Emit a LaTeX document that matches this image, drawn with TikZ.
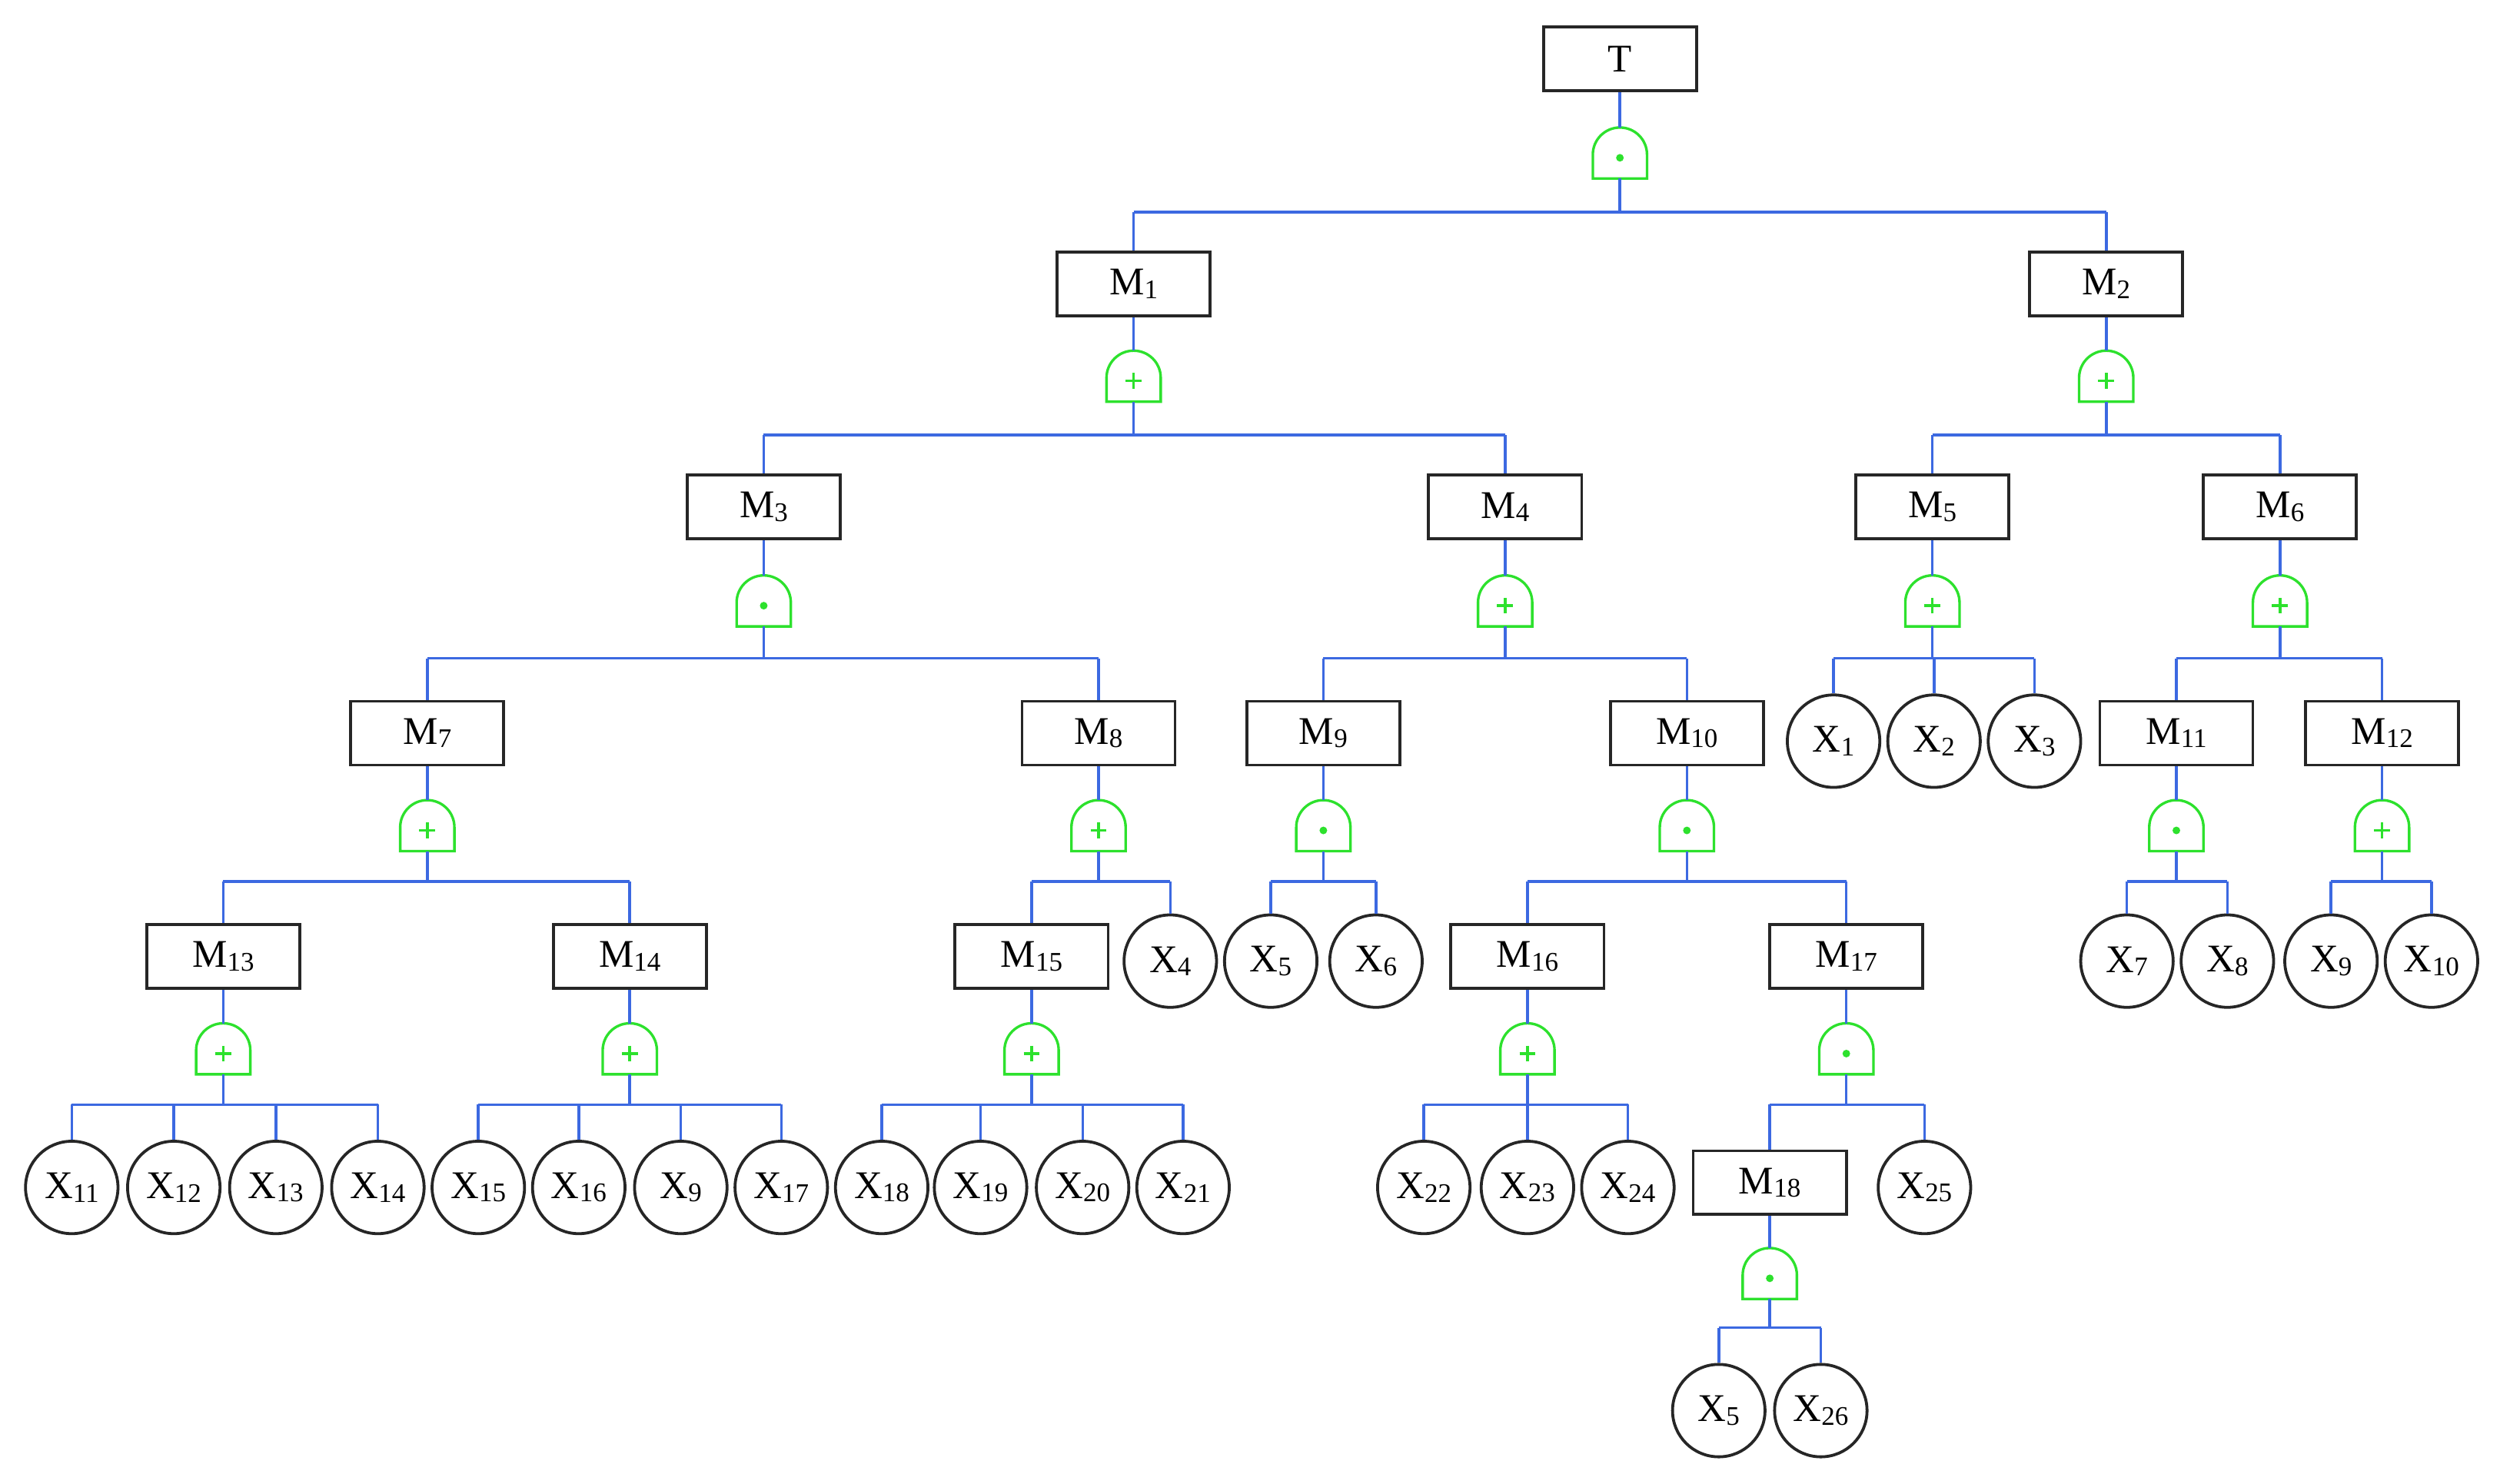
\documentclass[tikz,border=0pt]{standalone}
\usepackage{fontspec}
\setmainfont{Liberation Serif}
\definecolor{wireb}{RGB}{60,105,225}
\definecolor{gateg}{RGB}{45,225,45}
\newcommand\sbs[1]{\raisebox{-3pt}{\fontsize{24}{24}\selectfont #1}}
\tikzset{
 box/.style={draw=black!85,line width=2.6pt,minimum width=4.8cm,minimum height=2cm,inner sep=0pt,font=\fontsize{35}{35}\selectfont},
 ev/.style={draw=black!85,line width=2.6pt,circle,minimum size=2.9cm,inner sep=0pt,font=\fontsize{35}{35}\selectfont},
 wire/.style={draw=wireb,line width=2.4pt},
 gatec/.style={draw=gateg,line width=2.3pt},
}
\newcommand\gt[4]{%
 \coordinate (#1t) at (#2,#3-17); \coordinate (#1b) at (#2,#3+15);
 \draw[gatec] (#2-17,#3+15) -- (#2-17,#3) arc[start angle=180,end angle=360,radius=17] -- (#2+17,#3+15) -- cycle;
 \ifnum#4=1 \fill[gateg] (#2,#3+2) circle (2.4);
 \else \draw[gateg,line width=2.4pt] (#2-5,#3+2) -- (#2+5,#3+2) (#2,#3-3) -- (#2,#3+7);\fi}
\newcommand\famly[4]{% parent, gate, bar y, children
 \draw[wire] (#1.south) -- (#2t);
 \coordinate (#2bar) at (0,#3);
 \draw[wire] (#2b) -- (#2b |- #2bar);
 \foreach \c in {#4}{\draw[wire] (\c.north) -- (\c.north |- #2bar);}
}
\begin{document}
\begin{tikzpicture}[x=0.05cm,y=-0.05cm]
\useasboundingbox (0,0) rectangle (1568,931);
% boxes
\node[box] (T) at (1016,37) {T};
\node[box] (M1) at (711,178) {M\sbs{1}};
\node[box] (M2) at (1321,178) {M\sbs{2}};
\node[box] (M3) at (479,318) {M\sbs{3}};
\node[box] (M4) at (944,318) {M\sbs{4}};
\node[box] (M5) at (1212,318) {M\sbs{5}};
\node[box] (M6) at (1430,318) {M\sbs{6}};
\node[box] (M7) at (268,460) {M\sbs{7}};
\node[box] (M8) at (689,460) {M\sbs{8}};
\node[box] (M9) at (830,460) {M\sbs{9}};
\node[box] (M10) at (1058,460) {M\sbs{10}};
\node[box] (M11) at (1365,460) {M\sbs{11}};
\node[box] (M12) at (1494,460) {M\sbs{12}};
\node[box] (M13) at (140,600) {M\sbs{13}};
\node[box] (M14) at (395,600) {M\sbs{14}};
\node[box] (M15) at (647,600) {M\sbs{15}};
\node[box] (M16) at (958,600) {M\sbs{16}};
\node[box] (M17) at (1158,600) {M\sbs{17}};
\node[box] (M18) at (1110,742) {M\sbs{18}};
% events
\node[ev] (x1) at (1150,465) {X\sbs{1}};
\node[ev] (x2) at (1213,465) {X\sbs{2}};
\node[ev] (x3) at (1276,465) {X\sbs{3}};
\node[ev] (x4) at (734,603) {X\sbs{4}};
\node[ev] (x5) at (797,603) {X\sbs{5}};
\node[ev] (x6) at (863,603) {X\sbs{6}};
\node[ev] (x7) at (1334,603) {X\sbs{7}};
\node[ev] (x8) at (1397,603) {X\sbs{8}};
\node[ev] (x9a) at (1462,603) {X\sbs{9}};
\node[ev] (x10) at (1525,603) {X\sbs{10}};
\node[ev] (x11) at (45,745) {X\sbs{11}};
\node[ev] (x12) at (109,745) {X\sbs{12}};
\node[ev] (x13) at (173,745) {X\sbs{13}};
\node[ev] (x14) at (237,745) {X\sbs{14}};
\node[ev] (x15) at (300,745) {X\sbs{15}};
\node[ev] (x16) at (363,745) {X\sbs{16}};
\node[ev] (x9b) at (427,745) {X\sbs{9}};
\node[ev] (x17) at (490,745) {X\sbs{17}};
\node[ev] (x18) at (553,745) {X\sbs{18}};
\node[ev] (x19) at (615,745) {X\sbs{19}};
\node[ev] (x20) at (679,745) {X\sbs{20}};
\node[ev] (x21) at (742,745) {X\sbs{21}};
\node[ev] (x22) at (893,745) {X\sbs{22}};
\node[ev] (x23) at (958,745) {X\sbs{23}};
\node[ev] (x24) at (1021,745) {X\sbs{24}};
\node[ev] (x25) at (1207,745) {X\sbs{25}};
\node[ev] (x5b) at (1078,885) {X\sbs{5}};
\node[ev] (x26) at (1142,885) {X\sbs{26}};
% gates
\gt{gT}{1016}{97}{1}
\gt{g1}{711}{237}{2}
\gt{g2}{1321}{237}{2}
\gt{g3}{479}{378}{1}
\gt{g4}{944}{378}{2}
\gt{g5}{1212}{378}{2}
\gt{g6}{1430}{378}{2}
\gt{g7}{268}{519}{2}
\gt{g8}{689}{519}{2}
\gt{g9}{830}{519}{1}
\gt{g10}{1058}{519}{1}
\gt{g11}{1365}{519}{1}
\gt{g12}{1494}{519}{2}
\gt{g13}{140}{659}{2}
\gt{g14}{395}{659}{2}
\gt{g15}{647}{659}{2}
\gt{g16}{958}{659}{2}
\gt{g17}{1158}{659}{1}
\gt{g18}{1110}{800}{1}
% families
\famly{T}{gT}{133}{M1,M2}
\famly{M1}{g1}{273}{M3,M4}
\famly{M2}{g2}{273}{M5,M6}
\famly{M3}{g3}{413}{M7,M8}
\famly{M4}{g4}{413}{M9,M10}
\famly{M5}{g5}{413}{x1,x2,x3}
\famly{M6}{g6}{413}{M11,M12}
\famly{M7}{g7}{553}{M13,M14}
\famly{M8}{g8}{553}{M15,x4}
\famly{M9}{g9}{553}{x5,x6}
\famly{M10}{g10}{553}{M16,M17}
\famly{M11}{g11}{553}{x7,x8}
\famly{M12}{g12}{553}{x9a,x10}
\famly{M13}{g13}{693}{x11,x12,x13,x14}
\famly{M14}{g14}{693}{x15,x16,x9b,x17}
\famly{M15}{g15}{693}{x18,x19,x20,x21}
\famly{M16}{g16}{693}{x22,x23,x24}
\famly{M17}{g17}{693}{M18,x25}
\famly{M18}{g18}{833}{x5b,x26}
% horizontal bars
\draw[wire] (M1 |- gTbar) -- (M2 |- gTbar);
\draw[wire] (M3 |- g1bar) -- (M4 |- g1bar);
\draw[wire] (M5 |- g2bar) -- (M6 |- g2bar);
\draw[wire] (M7 |- g3bar) -- (M8 |- g3bar);
\draw[wire] (M9 |- g4bar) -- (M10 |- g4bar);
\draw[wire] (x1 |- g5bar) -- (x3 |- g5bar);
\draw[wire] (M11 |- g6bar) -- (M12 |- g6bar);
\draw[wire] (M13 |- g7bar) -- (M14 |- g7bar);
\draw[wire] (M15 |- g8bar) -- (x4 |- g8bar);
\draw[wire] (x5 |- g9bar) -- (x6 |- g9bar);
\draw[wire] (M16 |- g10bar) -- (M17 |- g10bar);
\draw[wire] (x7 |- g11bar) -- (x8 |- g11bar);
\draw[wire] (x9a |- g12bar) -- (x10 |- g12bar);
\draw[wire] (x11 |- g13bar) -- (x14 |- g13bar);
\draw[wire] (x15 |- g14bar) -- (x17 |- g14bar);
\draw[wire] (x18 |- g15bar) -- (x21 |- g15bar);
\draw[wire] (x22 |- g16bar) -- (x24 |- g16bar);
\draw[wire] (M18 |- g17bar) -- (x25 |- g17bar);
\draw[wire] (x5b |- g18bar) -- (x26 |- g18bar);
\end{tikzpicture}
\end{document}
